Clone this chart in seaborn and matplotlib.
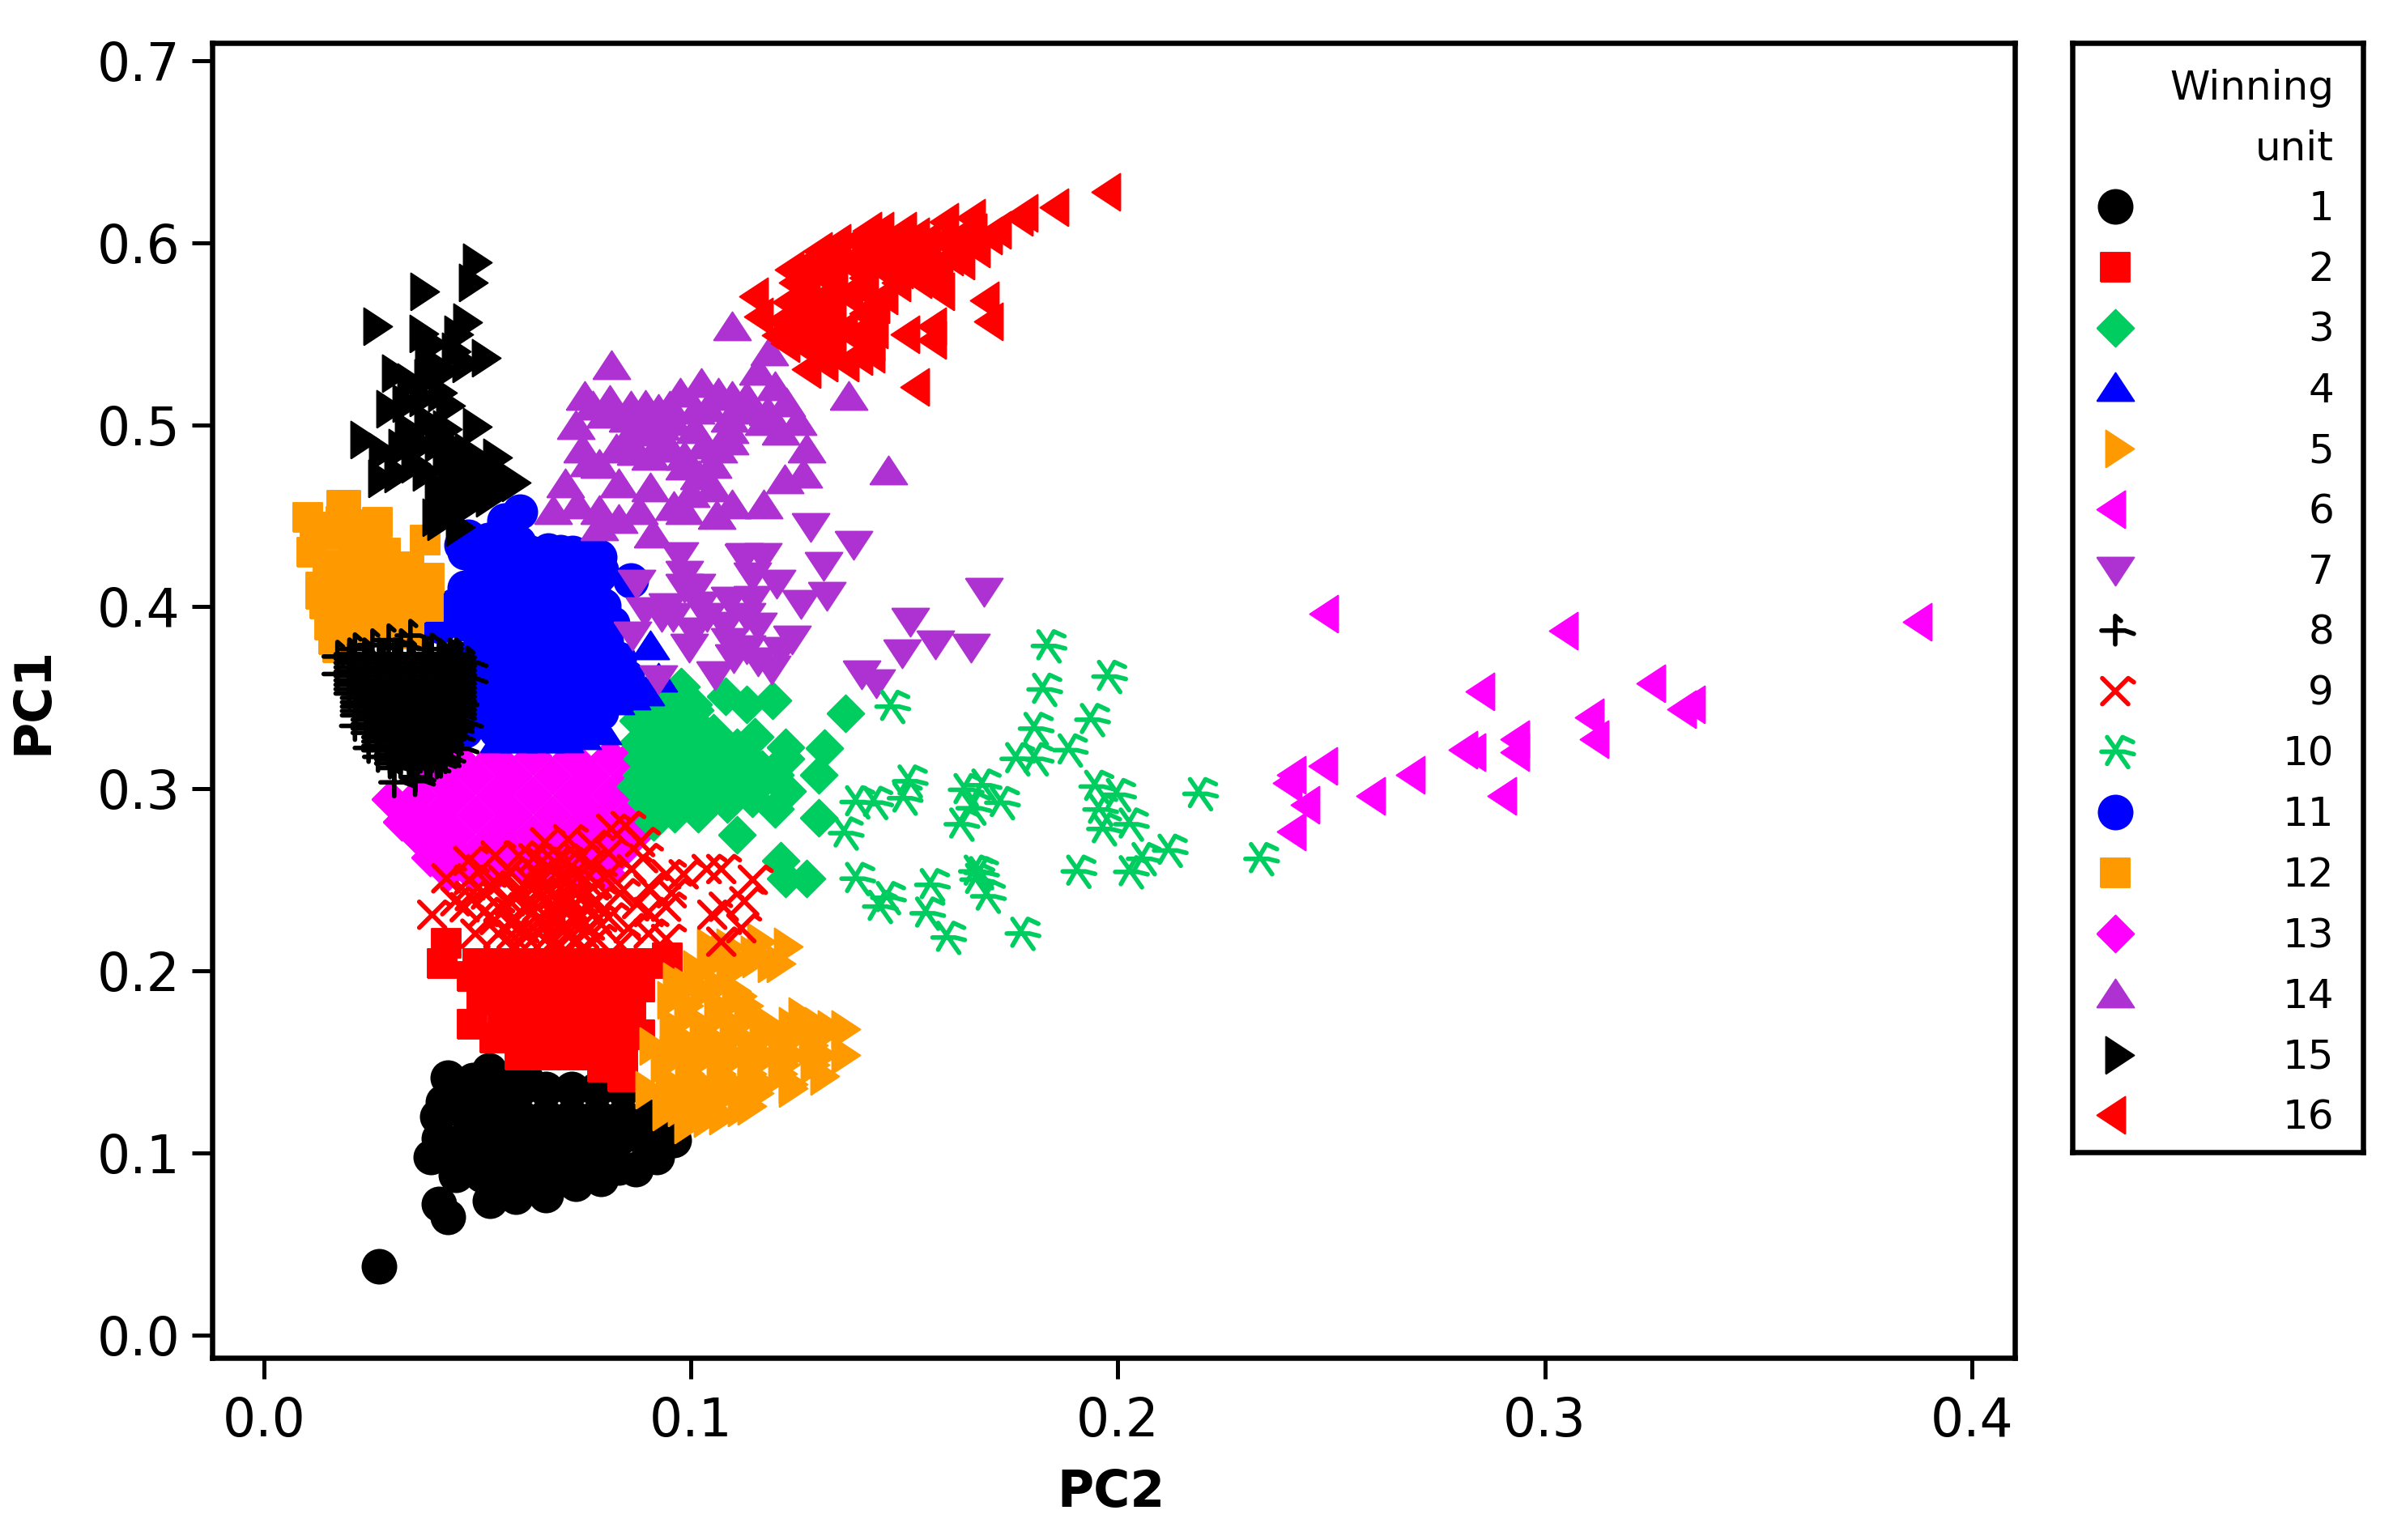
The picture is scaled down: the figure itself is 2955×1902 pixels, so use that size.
import numpy as np
import matplotlib
matplotlib.use("Agg")
import matplotlib.pyplot as plt
from matplotlib.markers import MarkerStyle
from matplotlib.path import Path
import seaborn as sns

# values, (PC2, PC1)
unit_1 = [(.0269,.0379),(.043,.065),(.041,.072),(.053,.074),(.059,.076),(.066,.077),(.073,.083),(.079,.086),
          (.083,.092),(.087,.091),(.092,.098),(.096,.107),(.096,.116),(.043,.1415),(.0527,.1455),(.049,.14),
          (.0565,.14),(.0615,.14),(.042,.128),(.048,.128),(.054,.128),(.0405,.12),(.041,.108),(.047,.108),
          (.053,.108),(.059,.108),(.065,.108),(.071,.108),(.077,.108),(.083,.108),(.089,.108),(.039,.098),
          (.045,.098),(.051,.098),(.057,.098),(.063,.098),(.069,.098),(.075,.098),(.081,.098),(.045,.088),
          (.051,.088),(.057,.088),(.063,.088),(.069,.088),(.075,.088),(.048,.12),(.054,.12),(.060,.12),
          (.066,.12),(.072,.12),(.078,.12),(.084,.12),(.090,.12),(.060,.135),(.066,.135),(.072,.135),
          (.078,.135),(.084,.135)]
unit_2 = [(.0427,.2154),(.0418,.2039),(.0488,.197),(.051,.184),(.0488,.1707),(.054,.163),(.060,.154),(.0793,.147),
          (.084,.142),(.0945,.207),(.050,.204),(.056,.204),(.062,.204),(.068,.204),(.074,.204),(.080,.204),
          (.086,.204),(.091,.204),(.052,.191),(.058,.191),(.064,.191),(.070,.191),(.076,.191),(.082,.191),
          (.088,.191),(.056,.178),(.062,.178),(.068,.178),(.074,.178),(.080,.178),(.086,.178),(.060,.165),
          (.066,.165),(.072,.165),(.078,.165),(.084,.165),(.088,.165),(.066,.154),(.072,.154),(.078,.154),(.084,.154)]
unit_3 = [(.1362,.3414),(.1191,.3486),(.1131,.3464),(.1082,.3509),(.0977,.356),(.1149,.3287),(.1221,.3227),
          (.1312,.3224),(.13,.3079),(.1197,.3079),(.1221,.3168),(.1107,.3227),(.1052,.3309),(.0973,.3405),
          (.0925,.3346),(.0877,.3257),(.0883,.3079),(.0871,.3013),(.0925,.299),(.1034,.3035),(.098,.3109),
          (.1107,.3094),(.1167,.3109),(.1143,.2946),(.1197,.289),(.1016,.2865),(.0961,.2865),(.0913,.2821),
          (.13,.2843),(.1107,.2746),(.121,.2606),(.127,.251),(.1221,.251),(.0913,.3168),(.0998,.3168),
          (.0931,.3079),(.1034,.2931),(.0949,.2931),(.1064,.3198),(.101,.3257),(.0949,.3213),(.1046,.3168),
          (.1016,.3346),(.0877,.3375),(.0905,.327),(.0935,.3166),(.0965,.3255),(.0995,.3335),(.1025,.3255),
          (.1055,.3135),(.0895,.2925),(.0985,.3),(.0975,.2945),(.1085,.3015),(.1115,.2995),(.1135,.3165),
          (.1155,.3015),(.1085,.2915),(.1225,.299),(.0885,.3165),(.0945,.3465),(.1005,.3465),(.0925,.344),
          (.101,.3435),(.0945,.3075),(.1015,.309),(.107,.3055)]
unit_4 = [(.0507,.3747),(.0570,.3747),(.0633,.3747),(.0696,.3747),(.0760,.3747),(.0507,.3614),(.0570,.3614),
          (.0633,.3614),(.0696,.3614),(.0760,.3614),(.0823,.3614),(.0507,.348),(.0570,.348),(.0633,.348),
          (.0696,.348),(.0760,.348),(.0823,.348),(.0862,.351),(.0894,.3532),(.0532,.3362),(.0595,.3362),
          (.0659,.3362),(.0722,.3362),(.0779,.3362),(.0551,.3273),(.0595,.3273),(.0659,.3273),(.0703,.3273),
          (.0745,.329),(.0793,.3318),(.0904,.3785),(.0924,.3606),(.0862,.3547)]
unit_5 = [(.1038,.213),(.1005,.2011),(.0957,.1942),(.0945,.1843),(.0902,.1586),(.0894,.1348),(.0933,.1227),
          (.0985,.1158),(.1066,.1206),(.1132,.1257),(.1217,.2134),(.1156,.216),(.1201,.2039),(.1251,.1752),
          (.132,.1683),(.1352,.1683),(.1352,.1538),(.1304,.1425),(.111,.1861),(.0987,.1752),(.106,.1752),
          (.1132,.1752),(.1181,.1693),(.0987,.1594),(.106,.1594),(.1132,.1594),(.1205,.1594),(.1277,.1594),
          (.0987,.1435),(.106,.1435),(.1132,.1435),(.1205,.1435),(.0987,.1297),(.106,.1297),(.1132,.1356),
          (.1084,.199),(.1144,.2069),(.1084,.2128),(.1023,.1891),(.1096,.1891),(.1229,.1356),(.0985,.1915),
          (.1055,.1915),(.0985,.181),(.1055,.181),(.1125,.181),(.095,.17),(.102,.17),(.109,.17),(.116,.17),
          (.123,.17),(.129,.17),(.096,.165),(.103,.165),(.11,.165),(.117,.165),(.124,.165),(.095,.154),(.102,.154),
          (.109,.154),(.116,.154),(.123,.154),(.13,.154),(.093,.1485),(.1,.1485),(.107,.1485),(.114,.1485),
          (.121,.1485),(.128,.1485),(.095,.138),(.102,.138),(.109,.138),(.116,.138),(.123,.138),(.094,.133),
          (.101,.133),(.108,.133),(.115,.133),(.097,.125),(.104,.125),(.111,.125),(.1,.119),(.103,.119),
          (.104,.204),(.111,.204),(.118,.204),(.107,.209),(.114,.209)]
unit_6 = [(.2492,.3963),(.3053,.3867),(.3882,.3916),(.2858,.3534),(.3258,.3581),(.3331,.3439),(.3352,.3464),
          (.3114,.3391),(.3126,.3272),(.2941,.3274),(.2941,.32),(.2818,.3215),(.2837,.32),(.2696,.3078),
          (.2602,.296),(.2909,.296),(.249,.3127),(.2417,.3078),(.2407,.3034),(.2449,.2912),(.2417,.2766)]
unit_7 = [(.1281,.4443),(.1381,.4345),(.1686,.4086),(.0872,.4133),(.0973,.4282),(.1124,.4277),(.1168,.4277),
          (.131,.4231),(.1319,.4065),(.12,.4133),(.1257,.4018),(.0984,.4107),(.1091,.4039),(.1144,.4043),
          (.0864,.3848),(.0995,.3778),(.1513,.392),(.1494,.375),(.1573,.3799),(.1656,.3778),(.1237,.3826),
          (.1157,.3703),(.1091,.3809),(.1056,.3629),(.119,.3661),(.0924,.3607),(.14,.3633),(.1434,.3586),
          (.0891,.398),(.0958,.3948),(.1037,.3948),(.1157,.3895),(.1144,.4171),(.0984,.4182),(.0931,.3948),
          (.0944,.4001),(.102,.401),(.108,.39),(.113,.377),(.121,.376),(.11,.372),(.1005,.387),(.1012,.411),
          (.1122,.4275),(.113,.395)]
unit_8 = [(.020,.374),(.027,.374),(.034,.374),(.041,.374),(.045,.374),(.020,.3716),(.027,.3716),(.034,.3716),
          (.041,.3716),(.045,.3716),(.020,.3692),(.027,.3692),(.034,.3692),(.041,.3692),(.045,.3692),
          (.020,.3668),(.027,.3668),(.034,.3668),(.041,.3668),(.045,.3668),(.020,.3644),(.027,.3644),(.034,.3644),
          (.041,.3644),(.045,.3644),(.020,.362),(.027,.362),(.034,.362),(.041,.362),(.045,.362),(.020,.3596),
          (.027,.3596),(.034,.3596),(.041,.3596),(.045,.3596),(.020,.3572),(.027,.3572),(.034,.3572),(.041,.3572),
          (.045,.3572),(.020,.3548),(.027,.3548),(.034,.3548),(.041,.3548),(.045,.3548),(.020,.3524),(.027,.3524),
          (.034,.3524),(.041,.3524),(.045,.3524),(.0215,.35),(.0285,.35),(.0355,.35),(.0425,.35),(.045,.35),
          (.0215,.3476),(.0285,.3476),(.0355,.3476),(.0425,.3476),(.045,.3476),(.0215,.3452),(.0285,.3452),
          (.0355,.3452),(.0425,.3452),(.045,.3452),(.0215,.3428),(.0285,.3428),(.0355,.3428),(.0425,.3428),
          (.045,.3428),(.0215,.3404),(.0285,.3404),(.0355,.3404),(.0425,.3404),(.045,.3404),(.024,.338),(.03,.338),
          (.0365,.338),(.043,.338),(.0445,.338),(.024,.3356),(.03,.3356),(.0365,.3356),(.043,.3356),(.0445,.3356),
          (.024,.3332),(.03,.3332),(.0365,.3332),(.043,.3332),(.0445,.3332),(.024,.3308),(.03,.3308),(.0365,.3308),
          (.043,.3308),(.0265,.3284),(.032,.3284),(.037,.3284),(.042,.3284),(.0265,.326),(.032,.326),(.037,.326),
          (.042,.326),(.0265,.3236),(.032,.3236),(.037,.3236),(.042,.3236),(.0265,.3212),(.032,.3212),(.037,.3212),
          (.042,.3212),(.0295,.3188),(.034,.3188),(.038,.3188),(.0405,.3188),(.0295,.3164),(.034,.3164),(.038,.3164),
          (.0405,.3164),(.0295,.314),(.034,.314),(.038,.314),(.0405,.314),(.0305,.3115),(.035,.3115),(.039,.3115),
          (.0172,.3727),(.0172,.3631),(.0213,.3346),(.0245,.3225),(.0267,.3176),(.0305,.3036),(.0355,.3065),
          (.0292,.3817),(.0343,.3842),(.0321,.379),(.0213,.3768),(.0254,.379),(.0393,.3768),(.0444,.3724),
          (.0422,.3716),(.0477,.3694),(.0477,.3605),(.0456,.348),(.0466,.3361),(.0447,.3287),(.0456,.322),
          (.0425,.3169),(.0414,.3144),(.0354,.3043),
          (.0235,.374),(.0305,.374),(.0375,.374),(.0435,.374),(.0235,.3716),(.0305,.3716),(.0375,.3716),(.0435,.3716),
          (.0235,.3692),(.0305,.3692),(.0375,.3692),(.0435,.3692),(.0235,.3668),(.0305,.3668),(.0375,.3668),(.0435,.3668),
          (.0235,.3644),(.0305,.3644),(.0375,.3644),(.0435,.3644),(.0235,.362),(.0305,.362),(.0375,.362),(.0435,.362),
          (.0235,.3596),(.0305,.3596),(.0375,.3596),(.0435,.3596),(.0235,.3572),(.0305,.3572),(.0375,.3572),(.0435,.3572),
          (.0235,.3548),(.0305,.3548),(.0375,.3548),(.0435,.3548),(.0235,.3524),(.0305,.3524),(.0375,.3524),(.0435,.3524),
          (.025,.35),(.032,.35),(.039,.35),(.025,.3476),(.032,.3476),(.039,.3476),(.025,.3452),(.032,.3452),(.039,.3452),
          (.025,.3428),(.032,.3428),(.039,.3428),(.025,.3404),(.032,.3404),(.039,.3404),(.027,.338),(.033,.338),(.04,.338),
          (.027,.3356),(.033,.3356),(.04,.3356),(.027,.3332),(.033,.3332),(.04,.3332),(.027,.3308),(.033,.3308),(.04,.3308),
          (.0295,.3284),(.0345,.3284),(.0395,.3284),(.0295,.326),(.0345,.326),(.0395,.326),(.0295,.3236),(.0345,.3236),
          (.0395,.3236),(.0295,.3212),(.0345,.3212),(.0395,.3212),(.032,.3188),(.036,.3188),(.032,.3164),(.036,.3164),
          (.032,.314),(.036,.314)]
unit_9 = [(.0394,.2309),(.0427,.2509),(.0478,.2605),(.0542,.2634),(.0509,.256),(.0658,.2708),(.0712,.2723),
          (.0813,.2782),(.0847,.2797),(.0881,.2708),(.0942,.2531),(.0983,.2531),(.1037,.256),(.1071,.256),
          (.1145,.2501),(.1125,.2383),(.1077,.2353),(.105,.2309),(.1118,.2235),(.1071,.2161),(.0942,.2353),
          (.0901,.2324),(.0874,.2368),(.0942,.2176),(.0766,.2694),(.0739,.262),(.0698,.262),(.0631,.262),
          (.0597,.2634),(.0576,.2546),(.0529,.2472),(.0482,.2412),(.0515,.2324),(.0448,.2383),(.0576,.2383),
          (.0644,.2442),(.0698,.2501),(.0752,.2501),(.0807,.2531),(.0861,.256),(.0901,.2457),(.0955,.2427),
          (.0671,.2353),(.0725,.2353),(.0779,.2383),(.0834,.2427),(.061,.2235),(.0644,.2205),(.0698,.2235),
          (.0752,.2264),(.0807,.2294),(.0854,.2235),(.0901,.2205),(.0576,.2264),(.0549,.2205),(.0495,.2205),
          (.0671,.2146),(.0725,.2161),(.0779,.2176),(.0834,.2146),(.0603,.2442),(.0671,.256),(.0712,.2412),
          (.0631,.2324),(.0766,.259),(.0807,.2649),(.0888,.262),(.0664,.2442),(.0685,.2294),(.0725,.2279),
          (.0658,.2264),(.0732,.2442),(.0691,.2383),(.0725,.2531),(.0644,.2531),(.048,.25),(.056,.25),(.062,.25),
          (.065,.25),(.052,.242),(.06,.242),(.064,.242),(.068,.242),(.075,.242),(.047,.235),(.055,.235),(.061,.235),
          (.064,.235),(.07,.235),(.076,.235),(.054,.228),(.059,.228),(.065,.228),(.069,.228),(.073,.228),(.078,.228),
          (.058,.22),(.061,.22),(.067,.22),(.071,.22),(.075,.22),(.059,.213),(.064,.213),(.069,.213),(.075,.213),
          (.065,.26),(.068,.26),(.071,.26),(.072,.248),(.078,.248)]
unit_10 = [(.1833,.3785),(.1975,.3617),(.1823,.3546),(.1467,.3452),(.1935,.338),(.1803,.3331),(.1883,.3213),
           (.176,.3165),(.1803,.3165),(.1508,.3042),(.1496,.2949),(.1385,.2928),(.1427,.2925),(.1639,.2995),
           (.1681,.302),(.1724,.2924),(.1657,.2894),(.1629,.2806),(.1945,.3013),(.1996,.2968),(.1954,.2887),
           (.1963,.278),(.2026,.2806),(.2188,.2973),(.2117,.2662),(.2056,.2616),(.2331,.2616),(.1903,.2547),
           (.2026,.2544),(.1663,.2547),(.1675,.2539),(.1666,.2502),(.1691,.241),(.1385,.2507),(.1457,.2402),
           (.1438,.2354),(.156,.2473),(.1549,.2317),(.1598,.2184),(.1772,.2206),(.1358,.2757)]
unit_11 = [(.0599,.4524),(.0564,.4472),(.0478,.4383),(.0463,.4339),(.0526,.4368),(.0595,.4354),(.0665,.4309),
           (.0722,.4294),(.0785,.4272),(.086,.4146),(.0785,.4176),(.0412,.3895),
           (.047,.43),(.0545,.43),(.062,.43),(.0695,.43),(.077,.43),(.0508,.4202),(.0583,.4202),(.0658,.4202),
           (.0733,.4202),(.079,.4202),(.047,.4104),(.0545,.4104),(.062,.4104),(.0695,.4104),(.077,.4104),
           (.0445,.4006),(.0508,.4006),(.0583,.4006),(.0658,.4006),(.0733,.4006),(.0795,.4006),(.047,.3908),
           (.0545,.3908),(.062,.3908),(.0695,.3908),(.077,.3908),(.0815,.3908),(.0508,.381),(.0583,.381),
           (.0658,.381),(.0733,.381),(.08,.381),(.047,.3712),(.0545,.3712),(.062,.3712),(.0695,.3712),(.077,.3712),
           (.083,.3712),(.0508,.3614),(.0583,.3614),(.0658,.3614),(.0733,.3614),(.0808,.3614),(.085,.3614),
           (.047,.3516),(.0545,.3516),(.062,.3516),(.0695,.3516),(.077,.3516),(.0845,.3516),(.0508,.3418),
           (.0583,.3418),(.0658,.3418),(.0733,.3418),(.079,.3418),(.047,.332),(.0545,.332),(.062,.332),(.0695,.332)]
unit_12 = [(.0102,.4491),(.0183,.456),(.0192,.456),(.0265,.4465),(.0112,.4299),(.0133,.411),(.0133,.4069),
           (.0143,.4016),(.0153,.3902),(.0164,.3821),(.0173,.3776),(.0377,.4368),(.0387,.4158),(.0377,.4058),
           (.0285,.4294),(.021,.4321),(.0152,.4398),(.0216,.4161),(.0292,.4161),(.0343,.4146),(.0216,.4013),
           (.0292,.4013),(.0343,.3998),(.0216,.391),(.0292,.3939),(.0185,.4132),(.0254,.4132),(.012,.444),
           (.018,.447),(.021,.445),(.026,.435),(.015,.423),(.021,.423),(.028,.422),(.034,.422),(.017,.408),
           (.025,.406),(.032,.406),(.0385,.4),(.019,.396),(.026,.396),(.034,.394),(.02,.385),(.027,.386),(.034,.385)]
unit_13 = [(.0295,.2944),(.0322,.2821),(.0358,.2742),(.0388,.2623),(.043,.2544),(.0345,.288),(.0375,.28),(.041,.27),
           (.036,.318),(.045,.318),(.054,.318),(.063,.318),(.072,.318),(.081,.318),(.086,.318),
           (.0405,.3073),(.0495,.3073),(.0585,.3073),(.0675,.3073),(.0765,.3073),(.0855,.3073),
           (.036,.2966),(.045,.2966),(.054,.2966),(.063,.2966),(.072,.2966),(.081,.2966),(.088,.2966),
           (.0405,.2859),(.0495,.2859),(.0585,.2859),(.0675,.2859),(.0765,.2859),(.0855,.2859),
           (.045,.2752),(.054,.2752),(.063,.2752),(.072,.2752),(.081,.2752),(.087,.2752),
           (.0445,.2645),(.0495,.2645),(.0585,.2645),(.0675,.2645),(.0765,.2645),(.083,.2645),
           (.0485,.2538),(.054,.2538),(.063,.2538),(.072,.2538),(.08,.2538)]
unit_14 = [(.1097,.5535),(.0814,.5322),(.0751,.5152),(.137,.5152),(.1024,.5227),(.0975,.5173),(.1064,.5173),
           (.1097,.5152),(.0798,.5057),(.0851,.5035),(.0894,.5103),(.0924,.5082),(.1184,.5397),(.1157,.5291),
           (.1197,.5205),(.1224,.512),(.125,.5014),(.127,.4865),(.1264,.4727),(.122,.4695),(.1463,.4744),
           (.0745,.4865),(.0705,.4674),(.0785,.478),(.0831,.4674),(.0904,.4652),(.1018,.4716),(.1097,.4557),
           (.117,.4557),(.0678,.4529),(.0785,.4525),(.0878,.4525),(.0984,.4525),(.0785,.444),(.0911,.4397),
           (.1031,.4886),(.0931,.4908),(.0851,.4929),(.117,.5014),(.121,.4961),(.0731,.4993),(.1011,.5078),
           (.0958,.5014),(.1091,.5035),(.0771,.5099),(.1064,.4865),(.0878,.4993),(.0984,.4823),(.0825,.4865),
           (.1091,.4908),(.0904,.4823),(.09,.5025),(.095,.51),(.104,.509),(.113,.508),(.109,.497),(.101,.497),
           (.093,.499),(.087,.485),(.095,.487),(.0985,.477),(.105,.478),(.105,.465),(.1,.462),(.096,.455),
           (.113,.515),(.118,.507),(.086,.51),(.081,.513),(.09,.496),(.076,.479),(.0735,.456),(.083,.448),
           (.106,.45)]
unit_15 = [(.049,.5894),(.048,.5779),(.0367,.573),(.0257,.5539),(.0467,.5565),(.0511,.5369),(.0465,.5337),
           (.0387,.5443),(.044,.5401),(.0378,.5337),(.0299,.5284),(.0407,.5177),(.0287,.5086),(.0427,.5103),
           (.049,.499),(.0375,.5018),(.0226,.4916),(.0315,.4873),(.042,.4975),(.0537,.4822),(.058,.4682),
           (.0395,.449),(.0267,.4703),(.0306,.4731),(.0372,.4741),(.0452,.4699),(.0492,.472),(.0525,.4678),
           (.0426,.4614),(.0479,.4571),(.0439,.4529),(.0346,.4784),(.0505,.4784),(.0365,.55),(.0415,.5295),
           (.0335,.5235),(.0375,.5255),(.0445,.5495),(.0325,.512),(.0365,.515),(.033,.497),(.027,.485),(.036,.489),
           (.045,.486),(.04,.49),(.04,.465),(.043,.469),(.046,.465),(.052,.46),(.047,.477),(.044,.477),(.0405,.447),
           (.045,.444),(.041,.456),(.05,.462),(.054,.473),(.056,.469),(.042,.482),(.047,.485)]
unit_16 = [(.1982,.628),(.1861,.6196),(.1788,.6162),(.1665,.6135),(.1603,.6113),(.1534,.6036),(.1504,.6064),
           (.1452,.6064),(.1423,.6064),(.124,.5851),(.1158,.5707),(.1169,.5592),(.1697,.5684),(.1708,.5567),
           (.1534,.5207),(.128,.5303),(.1231,.5448),(.1401,.5377),(.1512,.5496),(.1574,.5466),(.1574,.554),
           (.1594,.5733),(.1614,.5922),(.1676,.5969),(.1726,.607),(.1777,.614),(.1705,.604),(.149,.5781),
           (.1442,.5659),(.1307,.5955),(.135,.5999),(.1394,.6014),(.1307,.5851),(.1379,.5895),(.1452,.594),
           (.1525,.5969),(.1561,.6014),(.1597,.6014),(.1634,.6029),(.167,.6058),(.1496,.5851),(.1546,.5851),
           (.1583,.5851),(.1278,.5703),(.1343,.5777),(.1416,.5807),(.1234,.5673),(.1307,.5688),(.1379,.5703),
           (.1416,.5614),(.122,.557),(.1292,.557),(.1365,.5525),(.1307,.5481),(.1394,.5496),(.1329,.5407),
           (.1437,.5525),(.1275,.578),(.133,.57),(.127,.562),(.134,.563),(.14,.576),(.146,.571),(.129,.59),
           (.134,.595),(.142,.595),(.148,.599),(.151,.591),(.156,.592),(.164,.59),(.15,.601),(.144,.588),(.14,.585),
           (.134,.584),(.154,.58),(.159,.58),(.156,.585),(.147,.584),(.125,.578),(.13,.562),(.125,.559),(.132,.556),
           (.121,.549),(.126,.55),(.134,.544),(.143,.545),(.128,.542),(.137,.534),(.143,.539),(.132,.534)]

points = {1: unit_1, 2: unit_2, 3: unit_3, 4: unit_4, 5: unit_5, 6: unit_6, 7: unit_7, 8: unit_8,
          9: unit_9, 10: unit_10, 11: unit_11, 12: unit_12, 13: unit_13, 14: unit_14, 15: unit_15, 16: unit_16}

x_ticks = [0.0, 0.1, 0.2, 0.3, 0.4]
y_ticks = [0.0, 0.1, 0.2, 0.3, 0.4, 0.5, 0.6, 0.7]
draw_order = [1, 2, 5, 13, 3, 4, 11, 12, 7, 14, 9, 8, 10, 15, 6, 16]

BLACK, RED, GREEN, BLUE = "#000000", "#FF0000", "#00CD60", "#0000FF"
ORANGE, MAGENTA, PURPLE = "#FF9900", "#FF00FF", "#AE31D1"

# marker outlines, in output pixels around the point
CIRCLE = None
SQUARE = [(-18, -18), (18, -18), (18, 18), (-18, 18), (-18, -18)]
DIAMOND = [(-23, 0), (0, -23), (23, 0), (0, 23), (-23, 0)]
UP = [(-23, -16), (23, -16), (0, 19), (-23, -16)]
DOWN = [(-23, 16), (23, 16), (0, -19), (-23, 16)]
RIGHT = [(-12, -23), (23, 0), (-12, 23), (-12, -23)]
LEFT = [(12, -23), (-23, 0), (12, 23), (12, -23)]
M, L = Path.MOVETO, Path.LINETO
PLUS = Path([(0, -17), (0, 18), (7, 12), (-17, 0), (12, 0), (23, -4)], [M, L, L, M, L, L])
CROSS = Path([(-16, -16), (16, 16), (23, 11), (-16, 16), (16, -16)], [M, L, L, M, L])
STAR = Path([(-10, -15), (9, 18), (22, 12), (-10, 18), (16, -19), (-17, 0), (11, 0), (23, -3)],
            [M, L, L, M, L, M, L, L])

style = {1: (CIRCLE, BLACK), 2: (SQUARE, RED), 3: (DIAMOND, GREEN), 4: (UP, BLUE), 5: (RIGHT, ORANGE),
         6: (LEFT, MAGENTA), 7: (DOWN, PURPLE), 8: (PLUS, BLACK), 9: (CROSS, RED), 10: (STAR, GREEN),
         11: (CIRCLE, BLUE), 12: (SQUARE, ORANGE), 13: (DIAMOND, MAGENTA), 14: (UP, PURPLE),
         15: (RIGHT, BLACK), 16: (LEFT, RED)}

DPI = 300
W, H = 2955, 1902
PT = 72 / DPI


def draw(ax, xs, ys, unit):
    shape, color = style[unit]
    if shape is None:
        sns.scatterplot(x=xs, y=ys, ax=ax, marker="o", s=(44 * PT) ** 2, color=color, linewidth=0, legend=False)
    elif isinstance(shape, Path):
        size = (2 * PT * np.abs(shape.vertices).max()) ** 2
        sns.scatterplot(x=xs, y=ys, ax=ax, marker=MarkerStyle(shape, fillstyle="none"), s=size, color=color,
                        linewidth=1.35, capstyle="round", legend=False)
    else:
        size = (2 * PT * np.abs(np.array(shape)).max()) ** 2
        sns.scatterplot(x=xs, y=ys, ax=ax, marker=MarkerStyle(shape), s=size, color=color, edgecolor=color,
                        linewidth=0.45, legend=False)


def px_axes(fig, left, top, right, bottom):
    return fig.add_axes([left / W, 1 - bottom / H, (right - left) / W, (bottom - top) / H])


sns.set_theme(style="ticks")
plt.rcParams["font.family"] = ["DejaVu Sans"]
plt.rcParams["text.color"] = "black"
plt.rcParams["axes.labelcolor"] = "black"

fig = plt.figure(figsize=(W / DPI, H / DPI), dpi=DPI, facecolor="white")
ax = px_axes(fig, 262, 53, 2488, 1677)

for unit in draw_order:
    xs, ys = zip(*points[unit])
    draw(ax, list(xs), list(ys), unit)

ax.set_xlim(-0.01214, 0.4101)
ax.set_ylim(-0.01245, 0.7097)
ax.set_xticks(x_ticks)
ax.set_yticks(y_ticks)
ax.set_xticklabels([f"{t:.1f}" for t in x_ticks])
ax.set_yticklabels([f"{t:.1f}" for t in y_ticks])
ax.tick_params(axis="x", length=6.2, width=1.2, labelsize=15.5, pad=5, colors="black")
ax.tick_params(axis="y", length=6.0, width=1.2, labelsize=15.5, pad=3.4, colors="black")
ax.set_xlabel("PC2", fontsize=14.8, fontweight="bold", va="center")
ax.set_ylabel("PC1", fontsize=14.8, fontweight="bold", va="center")
ax.xaxis.set_label_coords(0.4985, -0.103)
ax.yaxis.set_label_coords(-0.0993, 0.5)
for s in ax.spines.values():
    s.set_linewidth(1.56)
    s.set_color("black")

# legend box, one row per unit on its own little axes
lax = px_axes(fig, 2559, 53, 2918, 1423)
for row in range(1, 17):
    draw(lax, [53], [row], row)
    lax.text(323, row - 0.025, str(row), ha="right", va="center_baseline", fontsize=12, color="black")
lax.text(323, -1.025, "Winning", ha="right", va="center_baseline", fontsize=12, color="black")
lax.text(323, -0.025, "unit", ha="right", va="center_baseline", fontsize=12, color="black")
lax.set_xlim(0, 359)
lax.set_ylim(16.61, -1.70)
lax.set_xticks([])
lax.set_yticks([])
for s in lax.spines.values():
    s.set_linewidth(1.56)
    s.set_color("black")

fig.savefig("out.png", dpi=DPI)
